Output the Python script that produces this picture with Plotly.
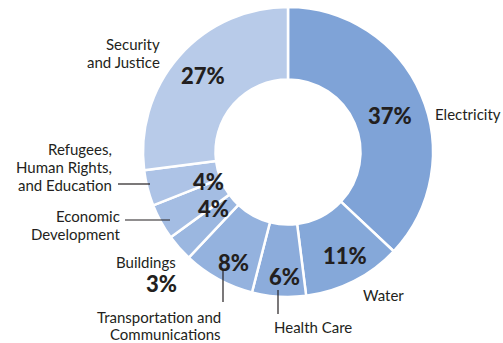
import plotly.graph_objects as go

categories = ["Electricity", "Water", "Health Care", "Transportation and Communications",
              "Buildings", "Economic Development", "Refugees, Human Rights, and Education",
              "Security and Justice"]
values = [37, 11, 6, 8, 3, 4, 4, 27]
colors = ["#7fa3d7", "#85a8d9", "#8cacdb", "#94b2de", "#9bb7e0", "#a4bde3", "#adc3e6", "#b8cbe9"]

W, H = 503, 343
cx, cy, R = 288, 152, 145

fig = go.Figure(go.Pie(
    labels=categories, values=values, sort=False, direction="clockwise", rotation=0,
    hole=0.5, textinfo="none", hoverinfo="label+percent",
    marker=dict(colors=colors, line=dict(color="white", width=2.5)),
    domain=dict(x=[(cx - R) / W, (cx + R) / W], y=[1 - (cy + R) / H, 1 - (cy - R) / H]),
    showlegend=False,
))

def px(x):
    return x / W

def py(y):
    return 1 - y / H

FONT = "Lato"
INK = "#231f20"

# percent labels (pixel positions)
pct_text = [f"{v}%" for v in values]
pct_pos = [(390, 115), (345, 255), (284, 276), (233, 262), (161, 283), (213, 208), (208, 181), (203, 75)]

ann = []
for t, (x, y) in zip(pct_text, pct_pos):
    ann.append(dict(x=px(x), y=py(y), xref="paper", yref="paper", text=t,
                    showarrow=False, xanchor="center", yanchor="middle",
                    font=dict(family=FONT, size=22, color=INK, weight=900)))

# category labels, one entry per text line
label_lines = [
    ("Electricity", 433, 114, "left"),
    ("Water", 361, 295, "left"),
    ("Health Care", 313, 327, "center"),
    ("Transportation and", 223, 317, "right"),
    ("Communications", 223, 334, "right"),
    ("Buildings", 178, 262, "right"),
    ("Economic", 122, 216, "right"),
    ("Development", 122, 234, "right"),
    ("Refugees,", 114, 149, "right"),
    ("Human Rights,", 114, 167, "right"),
    ("and Education", 114, 185, "right"),
    ("Security", 162, 44, "right"),
    ("and Justice", 162, 62, "right"),
]
for t, x, y, a in label_lines:
    ann.append(dict(x=px(x), y=py(y), xref="paper", yref="paper", text=t, showarrow=False,
                    xanchor=a, yanchor="middle",
                    font=dict(family=FONT, size=15, color=INK)))

# leader lines
lines = [(118, 184, 150, 184), (125, 220, 170, 220), (223, 270, 223, 302), (278, 290, 278, 314)]
shapes = [dict(type="line", xref="paper", yref="paper", x0=px(a), y0=py(b), x1=px(c), y1=py(d),
               line=dict(color=INK, width=1.2)) for a, b, c, d in lines]

fig.update_layout(width=W, height=H, margin=dict(l=0, r=0, t=0, b=0),
                  paper_bgcolor="white", plot_bgcolor="white",
                  annotations=ann, shapes=shapes)
fig.write_html("out.html", config={"displayModeBar": False},
               post_script="document.body.style.margin='0px';")
